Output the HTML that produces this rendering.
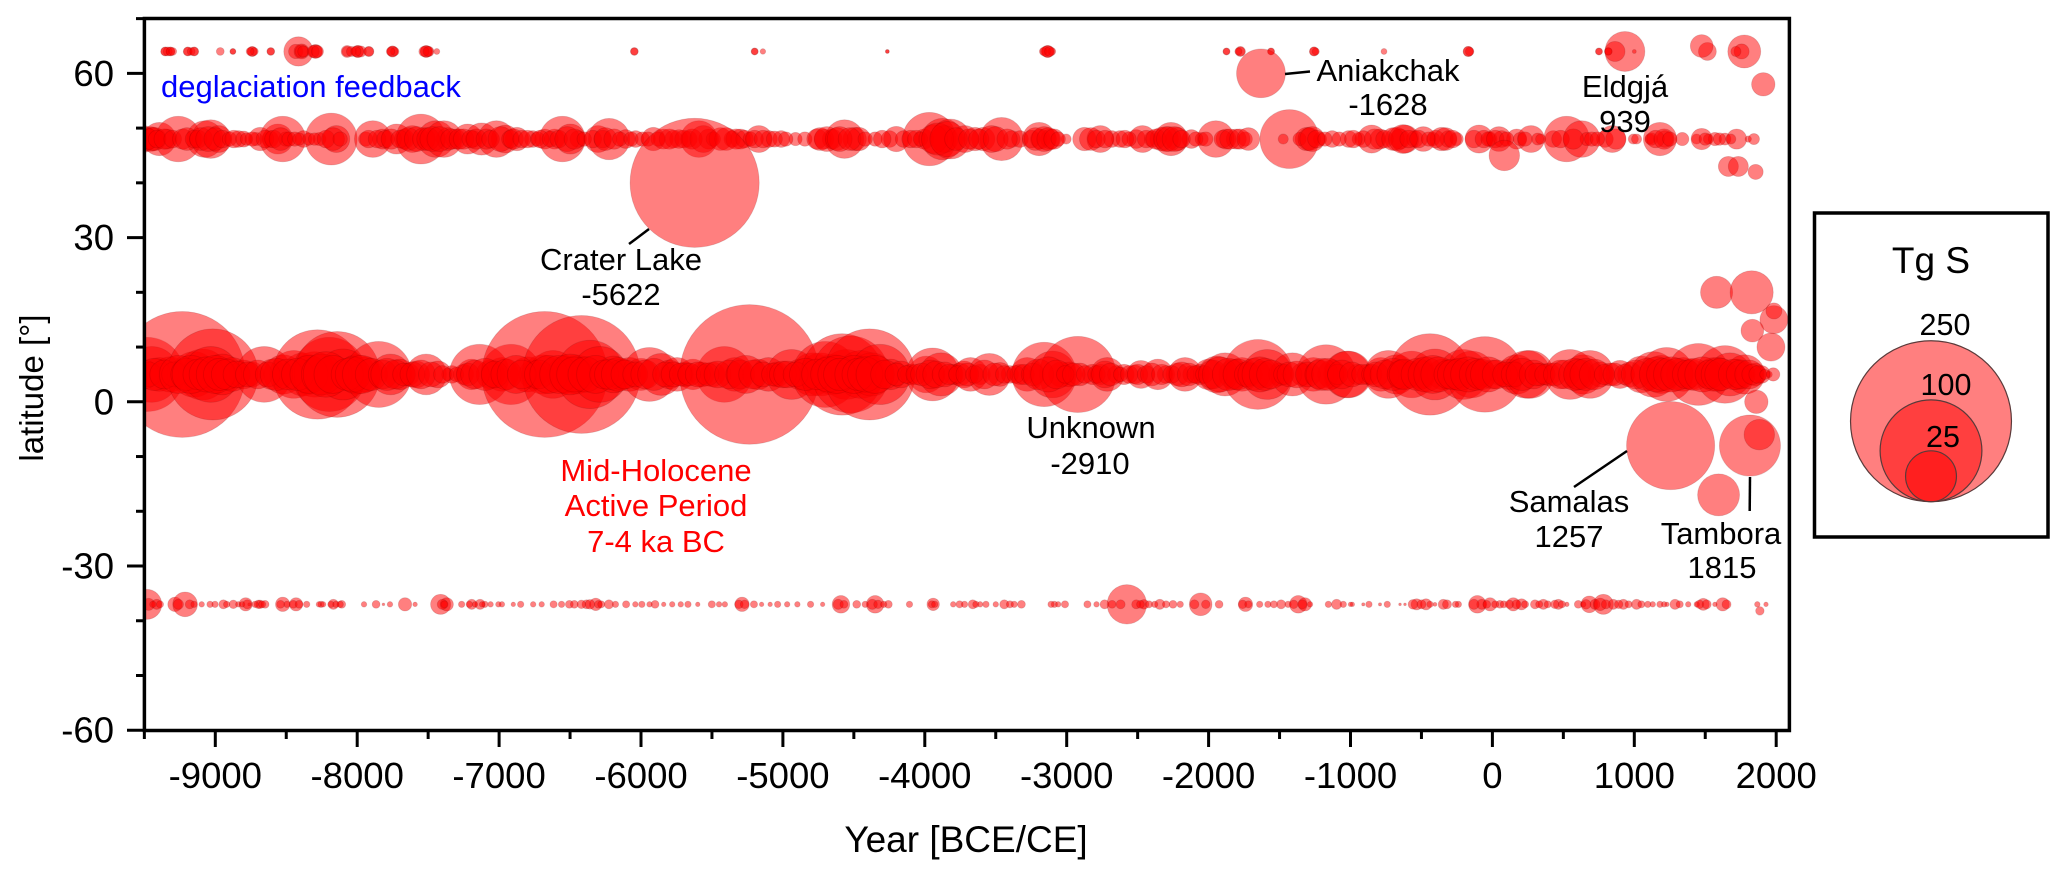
<!DOCTYPE html>
<html lang="en">
<head>
<meta charset="utf-8">
<title>Volcanic sulfur injections by latitude and year</title>
<style>
html,body{margin:0;padding:0;background:#fff;}
svg{display:block;font-family:"Liberation Sans",Arial,sans-serif;}
.note{font-size:31px;fill:#000;text-anchor:middle;}
.red{fill:#ff0000;}
.tick-label{font-size:36.5px;fill:#000;}
</style>
</head>
<body>
<svg id="chart" width="2067" height="878" viewBox="0 0 2067 878" xmlns="http://www.w3.org/2000/svg">
  <defs>
    <clipPath id="plot-clip"><rect x="144.4" y="18.5" width="1645" height="712"></rect></clipPath>
  </defs>
  <rect width="2067" height="878" fill="#fff"></rect>
  <g id="bubbles" clip-path="url(#plot-clip)"></g>
  <rect x="144.4" y="18.5" width="1645" height="712" fill="none" stroke="#000" stroke-width="3.5"></rect>
  <g id="axes"></g>

  <text x="966" y="852" font-size="37" text-anchor="middle">Year [BCE/CE]</text>
  <text transform="translate(43 388) rotate(-90)" font-size="33" text-anchor="middle">latitude [°]</text>

  <text x="161" y="97" font-size="31" fill="#0000ff">deglaciation feedback</text>

  <g>
    <text class="note red" x="656" y="481">Mid-Holocene</text>
    <text class="note red" x="656" y="516">Active Period</text>
    <text class="note red" x="656" y="552">7-4 ka BC</text>
  </g>

  <g>
    <line x1="629" y1="244" x2="649" y2="229" stroke="#000" stroke-width="2.5"></line>
    <text class="note" x="621" y="270">Crater Lake</text>
    <text class="note" x="621" y="305">-5622</text>
  </g>
  <g>
    <line x1="1285" y1="74" x2="1310" y2="71.5" stroke="#000" stroke-width="2.5"></line>
    <text class="note" x="1388" y="81">Aniakchak</text>
    <text class="note" x="1388" y="115">-1628</text>
  </g>
  <g>
    <text class="note" x="1625" y="97">Eldgjá</text>
    <text class="note" x="1625" y="132">939</text>
  </g>
  <g>
    <text class="note" x="1091" y="438">Unknown</text>
    <text class="note" x="1090" y="474">-2910</text>
  </g>
  <g>
    <line x1="1574" y1="487" x2="1627" y2="451" stroke="#000" stroke-width="2.5"></line>
    <text class="note" x="1569" y="512">Samalas</text>
    <text class="note" x="1569" y="547">1257</text>
  </g>
  <g>
    <line x1="1750" y1="477" x2="1749.7" y2="511" stroke="#000" stroke-width="2.5"></line>
    <text class="note" x="1721" y="544">Tambora</text>
    <text class="note" x="1722" y="578">1815</text>
  </g>

  <g id="legend">
    <rect x="1814.5" y="213" width="233.5" height="324" fill="#fff" stroke="#000" stroke-width="3.5"></rect>
    <text x="1931" y="273" font-size="37" text-anchor="middle">Tg S</text>
    <g id="legend-circles"></g>
    <text x="1945" y="335" font-size="30.5" text-anchor="middle">250</text>
    <text x="1946" y="395" font-size="30.5" text-anchor="middle">100</text>
    <text x="1943" y="447" font-size="30.5" text-anchor="middle">25</text>
  </g>
</svg>
<script>
// Values: year of eruption and sulfur injection (Tg S).
const xMajorTicks = [-9000,-8000,-7000,-6000,-5000,-4000,-3000,-2000,-1000,0,1000,2000];
const xMinorTicks = [-9500,-8500,-7500,-6500,-5500,-4500,-3500,-2500,-1500,-500,500,1500];
const yMajorTicks = [-60,-30,0,30,60];
const yMinorTicks = [-50,-40,-20,-10,10,20,40,50,70];
const legendValues = [250,100,25];

const north64Years = [-9353,-9316,-9194,-9149,-8965,-8876,-8740,-8609,-8414,-8433,-8392,-8294,-8071,-7996,-7918,-7751,-7514,-7495,-7439,-6047,-5199,-5141,-4264,-3134,-3165,-3105,-1874,-1776,-1560,-1257,-764,-170,751,817,934,864,1000,1515,1775,1756,1716];
const north64Tg = [0.8,0.8,0.8,0.8,0.6,0.35,1,0.6,8.3,2,2.2,1.9,1.4,1.4,1,1.2,1.4,1,0.35,0.6,0.5,0.3,0.15,1.4,0.6,0.6,0.5,1,0.5,0.8,0.35,1,0.5,0.6,15.4,3.9,0.15,3.1,10.5,2.2,1];
const north64MoreYears = [-9353,-9335,-9316,-9300,-9194,-9170,-9149,-8876,-8740,-8725,-8755,-8609,-8392,-8380,-8294,-8310,-8280,-8071,-8040,-7996,
  -7975,-8010,-7918,-7751,-7735,-7765,-7514,-7530,-7500,-6047,-5199,-4264,-3134,-3150,-3120,-1874,-1776,-1790,-1560,-1257,
  -1245,-170,-160,751,817];
const north64MoreTg = [0.7,0.8,0.7,0.6,0.7,0.6,0.7,0.3,0.9,0.6,0.6,0.5,1.6,1.2,1.7,1.4,1.4,1,1,1.4,
  1.2,1,0.9,1.1,0.7,0.7,1.3,1,1,0.5,0.4,0.12,1.4,1,1,0.4,0.8,0.5,0.4,0.8,
  0.5,1,0.7,0.4,0.5];

const north48Years = [-9506,-9456,-9428,-9394,-9339,-9261,-9074,-9032,-8977,-8837,-8712,-8684,-8614,-8559,-8525,-8503,-8378,-8266,-8183,-8147,
  -7941,-7890,-7821,-7723,-7668,-7612,-7551,-7445,-7389,-7361,-7305,-7222,-7180,-7124,-7019,-6957,-6874,-6762,-6679,-6609,
  -6554,-6498,-6442,-6303,-6225,-6108,-6038,-5913,-5843,-5732,-5662,-5592,-5523,-5357,-5299,-5170,-5098,-5012,-4911,-4845,
  -4710,-4652,-4566,-4494,-4465,-4350,-4249,-4201,-4149,-4005,-3968,-3876,-3818,-3861,-3717,-3646,-3588,-3459,-3530,-3387,
  -3329,-3194,-3185,-3113,-3004,-2875,-2763,-2682,-2625,-2510,-2466,-2394,-2331,-2265,-2222,-2121,-2049,-1949,-1877,-1805,
  -1742,-1431,-1474,-1307,-1359,-1215,-1129,-1014,-942,-851,-910,-792,-675,-616,-651,-546,-487,-416,-358,-311,
  -252,-94,-17,46,65,171,194,272,319,429,523,629,664,793,845,993,1016,1111,1181,1216,
  1338,1439,1475,1522,1568,1639,1721,1803,1843];
const north48Tg = [6.9,5.9,5.3,10.7,3.9,20,13,14.4,7,2.7,1.7,5.3,2.7,8.7,20,2,2.7,1.7,26,7,
  2,13,3.9,8.7,3.9,7,24,13,13,5,3.9,8.7,2.7,10,13,7.5,5.3,2.7,3.9,3.9,
  20,8.7,2.7,7,16.5,3.4,2.7,5.3,3.9,3.4,2.7,13,3.9,2.7,3.9,7,2.7,2.7,1.7,2,
  3.9,3.9,14.4,5.3,5.3,2,2.7,6.2,2.7,3.9,27.5,16.5,15.4,7,7,5.3,5.3,18,7,2.7,
  2.7,10.7,3.9,3.9,1,5.3,7,2.7,2.7,3.4,7,2.7,5.3,10.7,5.3,3.4,1.7,13,3.9,3.9,
  2,33.5,1,5.3,1.7,1.7,2.7,2.7,1.7,7.6,2.7,3.9,5.3,7.6,3.9,2.7,5.9,1.7,5.3,2.7,
  1.7,7.6,2,5.9,2.7,3.9,1.7,7,1.4,2.7,20,13,1.7,2.7,7,1,1,1,10.7,2.7,
  1.7,1,4.4,1,1.7,1.4,3.9,0.4,1.2];
const north48MoreYears = [-9490,-9470,-9440,-9410,-9360,-9300,-9230,-9200,-9150,-9120,-9100,-9050,-9000,-8950,-8900,-8870,-8800,-8780,-8740,-8650,
  -8590,-8540,-8480,-8440,-8410,-8340,-8300,-8220,-8170,-8120,-7920,-7860,-7800,-7760,-7700,-7640,-7580,-7530,-7500,-7470,
  -7420,-7340,-7280,-7250,-7200,-7160,-7090,-7060,-6990,-6920,-6900,-6840,-6800,-6730,-6710,-6640,-6580,-6520,-6470,-6400,
  -6340,-6270,-6250,-6190,-6150,-6070,-5990,-5950,-5880,-5800,-5770,-5700,-5640,-5560,-5490,-5440,-5400,-5330,-5270,-5230,
  -5200,-5140,-5060,-4980,-4760,-4740,-4690,-4620,-4600,-4530,-4420,-4300,-4100,-4060,-4030,-3940,-3910,-3840,-3780,-3690,
  -3620,-3500,-3420,-3250,-3220,-3160,-3130,-3090,-3060,-2830,-2790,-2730,-2590,-2560,-2440,-2370,-2300,-2280,-2240,-2190,
  -2090,-2020,-1900,-1850,-1780,-1720,-1290,-1270,-1240,-1180,-1080,-980,-830,-760,-700,-630,-590,-520,-450,-400,
  -330,-280,-130,-60,-30,20,100,230,340,480,570,700,740,870,1120,1150,1210,1250,1500,1600,
  1680];
const north48MoreTg = [5,4,5,3,4,3,4,5,3,3,5,6,5,3,2,3,2.5,1.5,2,3,
  3,5,2,2,1.5,1.5,1.5,3,5,2,3,3,3,4,3,5,6,5,5,6,
  6,4,4,4,3,4,4,3,6,3,4,3,3,2,3,2.5,3,6,4,2,
  3,3,5,4,2,2,2,2,2,4,3,3,4,7,2,5,5,4,3,2,
  3,3,2.5,2,4,5,6,5,6,5,2,3,3,3,2,8,10,12,5,4,
  4,6,4,3,5,6,5,4,2,5,3,3,3,2,3,4,6,6,6,3,
  2,2,3,4,4,5,5,6,3,2,2,3,4,3,5,8,3,3,2,3,
  5,3,3,3,2,3,2,2,1,3,4,2,2,4,1.5,3,4,2,1.5,1.5,
  1];

const equatorYears = [-9480,-9450,-9394,-9380,-9320,-9233,-9150,-9090,-9018,-9032,-8950,-8880,-8800,-8740,-8656,-8600,-8520,-8447,-8380,-8300,
  -8280,-8197,-8141,-8100,-8002,-7940,-7849,-7765,-7700,-7640,-7584,-7514,-7431,-7333,-7361,-7250,-7194,-7138,-7060,-6980,
  -6916,-6800,-6760,-6693,-6679,-6620,-6530,-6456,-6420,-6359,-6290,-6192,-6140,-6080,-6000,-5941,-5857,-5800,-5746,-5690,
  -5634,-5570,-5495,-5413,-5339,-5235,-5176,-5102,-5040,-4939,-4880,-4790,-4731,-4701,-4650,-4583,-4553,-4524,-4450,-4390,
  -4375,-4316,-4240,-4168,-4100,-3990,-3945,-3886,-3800,-3752,-3723,-3678,-3610,-3545,-3471,-3400,-3330,-3278,-3159,-3100,
  -3040,-2980,-2922,-2907,-2818,-2760,-2714,-2650,-2596,-2522,-2477,-2358,-2300,-2220,-2166,-2120,-2062,-2000,-1943,-1884,
  -1820,-1765,-1700,-1653,-1587,-1620,-1500,-1409,-1340,-1262,-1172,-1130,-1024,-1015,-950,-880,-786,-733,-675,-600,
  -569,-500,-440,-405,-350,-252,-205,-146,-100,-53,0,60,123,171,241,265,335,400,480,547,
  641,688,760,830,899,970,1050,1134,1190,1228,1345,1400,1451,1557,1639,1674,1720,1780,1850,1897,
  1950,1979];
const equatorTg = [53,30,11,5,12,153,20,25,80,30,16,11,8,6,30,9,15,22,18,20,
  77,53,71,25,15,12,42,16,9,5,7,16,7,3,1.5,4,9,35,8,11,
  35,12,8,15,153,22,14,15,134,45,30,13,9,11,10,28,17,8,11,6,
  9,6,6,30,11,188,9,11,6,24,9,18,18,42,16,64,24,57,22,80,
  18,35,9,7,4,13,27,18,4,5,7,11,4,17,5.5,3,4,11,40,21,
  6,6,56,5,4,4,11,3,4,3.4,7.5,9,3,5,11,3,4,9,13,18,
  9,11,5,47,24,7,5,18,5,11,34,8,21,21,4,4,11,22,15,8,
  21,8,64,25,9,9,24,21,8,55,8,5,9,15,22,22,5,5,8,24,
  15,22,6,5,7.6,6,13,20,14,28,11,9,37,11,32,18,9,15,5,3,
  0.4,1.7];
const equatorMoreYears = [-9500,-9470,-9430,-9360,-9290,-9260,-9200,-9170,-9120,-9060,-9000,-8970,-8920,-8850,-8770,-8700,-8630,-8570,-8490,-8420,
  -8340,-8250,-8220,-8170,-8070,-8030,-7970,-7900,-7820,-7790,-7730,-7670,-7610,-7550,-7480,-7400,-7300,-7220,-7170,-7100,
  -7030,-6950,-6880,-6840,-6720,-6650,-6580,-6500,-6470,-6390,-6320,-6260,-6220,-6160,-6110,-6040,-5970,-5910,-5830,-5770,
  -5720,-5660,-5600,-5530,-5460,-5380,-5300,-5260,-5210,-5140,-5070,-5000,-4970,-4910,-4840,-4760,-4680,-4620,-4600,-4500,
  -4470,-4420,-4350,-4280,-4200,-4130,-4060,-4020,-3960,-3920,-3860,-3830,-3770,-3700,-3650,-3580,-3510,-3440,-3360,-3300,
  -3240,-3200,-3130,-3070,-3010,-2950,-2870,-2790,-2730,-2690,-2620,-2560,-2500,-2440,-2400,-2330,-2260,-2190,-2140,-2090,
  -2030,-1970,-1920,-1860,-1790,-1730,-1680,-1640,-1600,-1560,-1470,-1430,-1380,-1300,-1220,-1200,-1160,-1090,-1060,-990,
  -920,-850,-820,-760,-700,-640,-620,-530,-470,-420,-380,-310,-280,-230,-170,-120,-80,-30,30,90,
  150,210,290,310,370,440,510,580,610,660,720,790,860,930,1010,1090,1160,1200,1260,1300,
  1370,1420,1480,1530,1590,1610,1700,1750,1810,1830,1870,1920];
const equatorMoreTg = [8,6,10,8,6,14,10,14,9,12,14,10,9,7,6,8,6,10,9,10,
  14,16,20,14,10,12,14,10,8,10,8,5,6,8,6,3,2,5,8,10,
  7,9,14,8,8,14,14,16,12,12,14,8,9,11,8,6,8,10,6,6,
  5,5,6,5,7,8,8,14,8,6,5,7,7,6,10,9,12,14,10,14,
  10,12,14,8,5,3,4,5,8,7,6,4,3,5,3,8,5,3,3,4,
  5,9,12,8,3,5,3,3,7,5,2,3,4,3,5,4,3,6,5,3,
  3,8,12,10,9,6,10,12,10,8,4,6,7,6,8,10,10,4,8,6,
  4,4,6,8,10,8,9,10,12,14,12,8,9,10,12,10,9,12,8,6,
  6,10,8,5,4,5,8,10,9,10,9,4,5,4,8,10,12,10,12,10,
  8,10,12,8,11,10,9,8,8,4,3,1];

const south37Years = [-9483,-9470,-9413,-9284,-9213,-9260,-9096,-9037,-9002,-8943,-8873,-8838,-8786,-8760,-8697,-8685,-8649,-8525,-8495,-8431,
  -8356,-8255,-8168,-8109,-7952,-7867,-7815,-7769,-7663,-7592,-7412,-7369,-7264,-7193,-7134,-7100,-7005,-6848,-6616,-6505,
  -6384,-6319,-6226,-6105,-5994,-5901,-5780,-5669,-5501,-5409,-5288,-5204,-5037,-4898,-4805,-4591,-4480,-4350,-4257,-4108,
  -3941,-3755,-3662,-3569,-3440,-3319,-3087,-3012,-2854,-2733,-2576,-2455,-2344,-2251,-2056,-1926,-1740,-1582,-1489,-1368,
  -1321,-1285,-1156,-1098,-1051,-987,-910,-870,-792,-741,-651,-616,-534,-468,-405,-346,-240,-106,-75,-17,
  53,147,206,300,359,465,525,605,683,723,782,852,923,1016,1095,1181,1230,1287,1380,1440,
  1486,1568,1623,1867,1928];
const south37Tg = [8.7,1.4,1,2,5.9,1,0.3,0.4,0.4,0.8,0.7,0.3,1.7,0.1,0.7,0.7,0.6,2,0.4,1.7,
  0.4,0.4,1,0.6,0.3,0.6,0.07,0.3,1.7,0.2,3.9,1.7,0.4,1,1,0.4,0.3,0.4,0.5,0.6,
  0.8,1.5,0.8,0.5,0.4,0.6,0.3,0.4,0.5,0.3,2,0.5,0.4,0.3,0.4,3,0.6,3,0.6,0.4,
  1.5,0.5,0.8,0.4,0.8,0.6,0.4,0.5,0.5,0.8,15,0.9,1,0.6,5,0.6,2,0.4,0.8,3,
  1.7,0.3,0.4,1,0.4,0.2,0.1,0.4,0.1,0.4,0.07,0.07,1.2,1.2,0.15,1,0.4,3,1,1.7,
  0.6,1.7,1.2,0.8,1,1,0.2,0.6,2.7,1,3.9,1,1,1,0.4,0.4,0.2,1,0.3,0.3,
  1.4,0.2,1.7,0.3,0.2];
const south37MoreYears = [-9440,-9390,-9180,-9150,-8920,-8810,-8775,-8720,-8670,-8540,-8450,-8410,-8270,-8240,-8185,-8150,-8120,-7400,-7385,-7210,
  -7170,-7120,-7060,-6980,-6900,-6760,-6700,-6560,-6470,-6420,-6360,-6300,-6280,-6180,-6040,-5940,-5840,-5720,-5600,-5450,
  -5310,-5270,-5150,-5090,-4970,-4720,-4610,-4570,-4420,-4370,-4330,-4290,-3950,-3930,-3800,-3720,-3640,-3610,-3500,-3400,
  -3370,-3110,-3060,-2790,-2680,-2620,-2510,-2480,-2420,-2380,-2300,-2200,-2100,-2020,-1760,-1720,-1640,-1540,-1440,-1400,
  -1340,-1000,-560,-500,-440,-320,-260,-130,-40,20,80,120,170,230,330,390,440,490,640,660,
  760,800,890,960,1050,1130,1210,1320,1460,1510,1650];
const south37MoreTg = [0.4,0.5,0.8,0.4,0.4,0.3,0.8,0.4,0.5,0.6,0.6,0.6,0.3,0.3,0.4,0.4,0.4,1,0.5,0.4,
  0.3,0.3,0.3,0.3,0.2,0.3,0.3,0.4,0.6,0.7,0.9,0.6,0.5,0.4,0.3,0.3,0.2,0.3,0.2,0.3,
  0.7,0.7,0.2,0.2,0.3,0.2,1,0.6,0.4,1,0.7,0.4,0.5,0.4,0.3,0.4,0.4,0.3,0.3,0.5,
  0.4,0.4,0.3,0.3,0.6,0.8,0.8,0.6,0.5,0.4,0.5,0.4,0.8,0.7,0.7,0.5,0.4,0.5,0.4,0.7,
  0.8,0.2,0.9,0.8,0.4,0.8,0.4,1,0.6,0.5,0.5,0.7,0.8,0.5,0.5,0.5,0.7,0.5,0.3,0.9,
  1.5,0.8,0.7,0.5,0.5,0.3,0.3,0.5,0.7,0.8,0.8];

const isolatedYears = [-5622,-1631,84,1475,1909,1663,1733,1855,1256,1815,1881,1594,1860,1580,1827,1984,1984,1832,1963,1885];
const isolatedLats = [40,60,45,65,58,43,43,42,-8,-8,-6,-17,0,20,20,15,16.6,13,10,-38.2];
const isolatedTg = [161,23,9,5,5.3,3.9,3.9,2.2,75,36,9,17,5.3,10,18,7.6,2.5,5,7.6,0.7];

const SVGNS = 'http://www.w3.org/2000/svg';
function xScale(year){ return 1492.4 + 0.1419 * year; }
function yScale(lat){ return 401.8 - 5.474 * lat; }
function rScale(tg){ return 5.09 * Math.sqrt(tg); }

const bubbleLayer = document.getElementById('bubbles');
const axesLayer = document.getElementById('axes');
const legendLayer = document.getElementById('legend-circles');

function addBubble(year, lat, tg){
  const c = document.createElementNS(SVGNS, 'circle');
  c.setAttribute('cx', xScale(year));
  c.setAttribute('cy', yScale(lat));
  c.setAttribute('r', rScale(tg));
  c.setAttribute('fill', 'rgba(255,0,0,0.5)');
  c.setAttribute('stroke', 'rgba(90,0,0,0.16)');
  c.setAttribute('stroke-width', '0.8');
  
  
  bubbleLayer.appendChild(c);
}
function drawBand(years, tg, lat){
  for (let i = 0; i < years.length; i++) addBubble(years[i], lat, tg[i]);
}
drawBand(equatorYears, equatorTg, 5);
drawBand(equatorMoreYears, equatorMoreTg, 5);
drawBand(north48Years, north48Tg, 48);
drawBand(north48MoreYears, north48MoreTg, 48);
drawBand(north64Years, north64Tg, 64);
drawBand(north64MoreYears, north64MoreTg, 64);
drawBand(south37Years, south37Tg, -37);
drawBand(south37MoreYears, south37MoreTg, -37);
for (let i = 0; i < isolatedYears.length; i++) addBubble(isolatedYears[i], isolatedLats[i], isolatedTg[i]);

function addTick(x1, y1, x2, y2, width){
  const l = document.createElementNS(SVGNS, 'line');
  l.setAttribute('x1', x1);
  l.setAttribute('y1', y1);
  l.setAttribute('x2', x2);
  l.setAttribute('y2', y2);
  l.setAttribute('stroke', '#000');
  l.setAttribute('stroke-width', width);
  
  
  axesLayer.appendChild(l);
}
function addTickLabel(x, y, anchor, value){
  const t = document.createElementNS(SVGNS, 'text');
  t.setAttribute('x', x);
  t.setAttribute('y', y);
  t.setAttribute('text-anchor', anchor);
  t.setAttribute('class', 'tick-label');
  
  
  t.textContent = String(value);
  axesLayer.appendChild(t);
}
xMajorTicks.forEach(function(v){
  addTick(xScale(v), 730, xScale(v), 747, 3);
  addTickLabel(xScale(v), 788, 'middle', v);
});
xMinorTicks.forEach(function(v){
  addTick(xScale(v), 730, xScale(v), 739, 3);
});
yMajorTicks.forEach(function(v){
  addTick(127, yScale(v), 144.4, yScale(v), 3);
  addTickLabel(114, yScale(v) + 12.5, 'end', v);
});
yMinorTicks.forEach(function(v){
  addTick(136, yScale(v), 144.4, yScale(v), 3);
});

legendValues.forEach(function(v){
  const r = rScale(v);
  const c = document.createElementNS(SVGNS, 'circle');
  c.setAttribute('cx', 1931);
  c.setAttribute('cy', 501.7 - r);
  c.setAttribute('r', r);
  c.setAttribute('fill', 'rgba(255,0,0,0.5)');
  c.setAttribute('stroke', '#5a3a3a');
  c.setAttribute('stroke-width', '1.2');
  
  
  legendLayer.appendChild(c);
});
</script>
</body>
</html>
